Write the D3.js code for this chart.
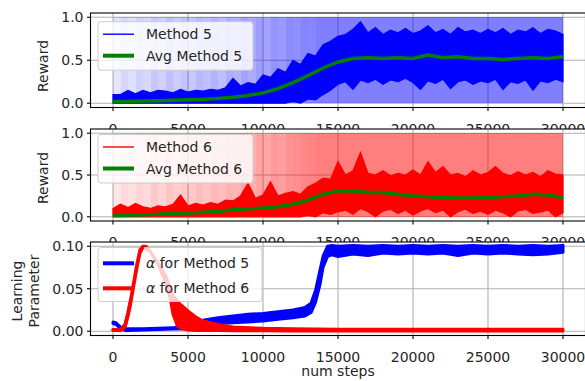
<!DOCTYPE html>
<html>
<head>
<meta charset="utf-8">
<script src="https://cdn.jsdelivr.net/npm/d3@7"></script>
<style>
  body { margin: 0; background: #fff; }
  text { font-family: "DejaVu Sans", sans-serif; font-size: 14px; fill: #262626; }
</style>
</head>
<body>
<svg id="chart" width="585" height="381"></svg>
<script>
// ---- data ----
const xTicks = [0, 5000, 10000, 15000, 20000, 25000, 30000];
const rewardTicks = [0.0, 0.5, 1.0];
const alphaTicks = [0.00, 0.05, 0.10];

// envelope of the raw reward traces, sampled every 500 steps
const bandSteps = d3.range(0, 30001, 500);
const upper5 = [0.10, 0.10, 0.15, 0.11, 0.15, 0.12, 0.15,
  0.14, 0.12, 0.16, 0.13, 0.15, 0.14, 0.16, 0.15,
  0.18, 0.29, 0.20, 0.24, 0.22, 0.33,
  0.30, 0.40, 0.36, 0.50, 0.45, 0.58,
  0.55, 0.68, 0.72, 0.78,
  0.80, 0.86, 0.95, 0.82, 0.88, 0.80, 0.85, 0.82, 0.87, 0.81,
  0.84, 0.90, 0.82, 0.86, 0.80, 0.88, 0.83, 0.85, 0.81, 0.86,
  0.82, 0.87, 0.80, 0.85, 0.83, 0.88, 0.81, 0.86, 0.84, 0.80];
const lower5 = [0, 0, 0, 0, 0, 0, 0, 0, 0, 0, 0, 0, 0, 0, 0, 0, 0, 0, 0, 0, 0, 0, 0,
  0, 0.02, 0, 0.05,
  0.04, 0.10, 0.15, 0.22,
  0.25, 0.16, 0.27, 0.24, 0.28, 0.22, 0.27, 0.25, 0.29, 0.24,
  0.16, 0.26, 0.23, 0.28, 0.17, 0.25, 0.27, 0.22, 0.26, 0.24,
  0.28, 0.16, 0.25, 0.23, 0.27, 0.15, 0.26, 0.24, 0.28, 0.25];
const upper6 = [0.10, 0.15, 0.11, 0.16, 0.12, 0.10, 0.13,
  0.12, 0.15, 0.26, 0.13, 0.16, 0.14, 0.17, 0.15,
  0.20, 0.19, 0.25, 0.40, 0.22, 0.26,
  0.42, 0.25, 0.28, 0.30, 0.27, 0.36,
  0.40, 0.46, 0.45, 0.66,
  0.50, 0.55, 0.77, 0.52, 0.50, 0.55, 0.49, 0.52, 0.50, 0.56,
  0.50, 0.66, 0.53, 0.60, 0.50, 0.52, 0.48, 0.55, 0.50, 0.53,
  0.60, 0.52, 0.49, 0.54, 0.50, 0.53, 0.48, 0.55, 0.51, 0.50];
const lower6 = [0, 0, 0, 0, 0, 0, 0, 0, 0, 0, 0, 0, 0, 0, 0, 0, 0, 0, 0, 0, 0, 0, 0, 0, 0,
  0, 0.02, 0, 0.05, 0.03, 0.06,
  0.08, 0.03, 0.10, 0.06, 0.0, 0.07, 0.09, 0.04, 0.08, 0.02,
  0.07, 0.10, 0.05, 0.08, 0.0, 0.06, 0.09, 0.04, 0.07, 0.03,
  0.08, 0.05, 0.0, 0.07, 0.09, 0.04, 0.06, 0.08, 0.0, 0.05];

// how densely the raw 0/1 reward flickers in each 500-step bin
const density5 = [0.20, 0.32, 0.24, 0.36,
  0.30, 0.44, 0.36, 0.50, 0.40, 0.48,
  0.44, 0.56, 0.50, 0.60, 0.52, 0.64,
  0.60, 0.72, 0.66, 0.76,
  0.72, 0.84, 0.80, 0.90,
  0.88, 0.96, 0.94,
  1, 1, 1, 1, 1, 1, 1, 1, 1, 1, 1, 1, 1, 1, 1, 1, 1, 1, 1, 1, 1, 1, 1, 1, 1, 1, 1, 1, 1, 1, 1, 1, 1, 1];
const density6 = [0.20, 0.30, 0.24, 0.34,
  0.30, 0.42, 0.34, 0.46, 0.38, 0.44,
  0.42, 0.52, 0.46, 0.56, 0.50, 0.60,
  0.58, 0.68, 0.62, 0.72,
  0.70, 0.80, 0.76, 0.86,
  0.88, 0.94, 0.96,
  1, 1, 1, 1, 1, 1, 1, 1, 1, 1, 1, 1, 1, 1, 1, 1, 1, 1, 1, 1, 1, 1, 1, 1, 1, 1, 1, 1, 1, 1, 1, 1, 1, 1];

// running averages, every 1000 steps
const avgSteps = d3.range(0, 30001, 1000);
const avg5 = [0.02, 0.02, 0.025, 0.03, 0.035, 0.04, 0.045, 0.055, 0.07, 0.09, 0.12,
  0.17, 0.24, 0.32, 0.41, 0.48, 0.52, 0.53, 0.52, 0.53, 0.52,
  0.56, 0.53, 0.54, 0.52, 0.52, 0.51, 0.52, 0.53, 0.52, 0.54];
const avg6 = [0.015, 0.02, 0.025, 0.03, 0.04, 0.045, 0.055, 0.065, 0.085, 0.095, 0.105,
  0.12, 0.15, 0.20, 0.27, 0.31, 0.31, 0.29, 0.29, 0.27, 0.25,
  0.24, 0.23, 0.225, 0.225, 0.23, 0.24, 0.25, 0.27, 0.26, 0.23];

// learning parameter alpha, low / high edge of the noisy trace
const alpha5Steps = [0, 200, 500, 800, 1000, 2000, 3000, 4000, 5000, 6000, 7000, 8000, 9000, 10000,
  11000, 12000, 12800, 13200, 13500, 13800, 14000, 14300, 14600, 15000, 16000, 17000, 18000,
  19000, 20000, 21000, 22000, 23000, 24000, 25000, 26000, 27000, 28000, 29000, 30000];
const alpha5Lo = [0.009, 0.008, 0.003, 0.001, 0.001, 0.0015, 0.002, 0.0025, 0.003, 0.006, 0.009,
  0.010, 0.011, 0.012, 0.014, 0.016, 0.018, 0.022, 0.034, 0.055, 0.075, 0.088, 0.090, 0.088,
  0.091, 0.089, 0.092, 0.091, 0.092, 0.091, 0.092, 0.089, 0.092, 0.091, 0.092, 0.091, 0.090, 0.091, 0.093];
const alpha5Hi = [0.011, 0.010, 0.005, 0.003, 0.003, 0.003, 0.0035, 0.004, 0.008, 0.013, 0.016,
  0.018, 0.020, 0.021, 0.023, 0.025, 0.028, 0.033, 0.048, 0.072, 0.088, 0.100, 0.101, 0.100,
  0.101, 0.100, 0.101, 0.100, 0.101, 0.100, 0.101, 0.100, 0.101, 0.100, 0.101, 0.100, 0.101, 0.100, 0.101];
const alpha6Steps = [0, 500, 800, 1000, 1200, 1400, 1600, 1800, 2000, 2200, 2500, 3000, 3500, 3800,
  4000, 4300, 4600, 5000, 5500, 6000, 7000, 8000, 10000, 12000, 15000, 20000, 25000, 30000];
const alpha6Lo = [0.001, 0.0008, 0.005, 0.018, 0.035, 0.055, 0.075, 0.092, 0.099, 0.098, 0.093,
  0.079, 0.058, 0.040, 0.020, 0.006, 0.003, 0.0015, 0.001, 0.001, 0.0008, 0.0006, 0.0005, 0.0004,
  0.0003, 0.0003, 0.0003, 0.0003];
const alpha6Hi = [0.002, 0.0015, 0.008, 0.022, 0.040, 0.060, 0.080, 0.096, 0.100, 0.100, 0.094,
  0.080, 0.066, 0.052, 0.042, 0.035, 0.030, 0.024, 0.017, 0.012, 0.008, 0.005, 0.0035, 0.003,
  0.0025, 0.0025, 0.0025, 0.0025];

// ---- layout ----
const svg = d3.select("#chart");
const x = d3.scaleLinear().domain([-1500, 31500]).range([90.5, 585.5]);
const panels = [
  {top: 13, bottom: 107.5, domain: [-0.05, 1.05], ticks: rewardTicks, fmt: d3.format(".1f")},
  {top: 129, bottom: 221, domain: [-0.05, 1.05], ticks: rewardTicks, fmt: d3.format(".1f")},
  {top: 242, bottom: 335.5, domain: [-0.005, 0.105], ticks: alphaTicks, fmt: d3.format(".2f")}
];
panels.forEach(p => p.y = d3.scaleLinear().domain(p.domain).range([p.bottom, p.top]));

const zip = (steps, ...cols) => steps.map((s, i) => ({s, v: cols.map(c => c[i])}));
const opacity = d3.scaleLinear().domain([0, 1]).range([0, 0.5]);

function frame(p, i) {
  const g = svg.append("g");
  g.append("rect").attr("x", x.range()[0]).attr("y", p.top)
    .attr("width", x.range()[1] - x.range()[0]).attr("height", p.bottom - p.top)
    .attr("fill", "#fff");
  g.append("clipPath").attr("id", "clip" + i).append("rect")
    .attr("x", x.range()[0]).attr("y", p.top)
    .attr("width", x.range()[1] - x.range()[0]).attr("height", p.bottom - p.top);
  // grid
  g.selectAll(".vg").data(xTicks).join("line")
    .attr("x1", d => x(d)).attr("x2", d => x(d)).attr("y1", p.top).attr("y2", p.bottom)
    .attr("stroke", "#b0b0b0").attr("stroke-width", 1.1);
  g.selectAll(".hg").data(p.ticks).join("line")
    .attr("x1", x.range()[0]).attr("x2", x.range()[1]).attr("y1", d => p.y(d)).attr("y2", d => p.y(d))
    .attr("stroke", "#b0b0b0").attr("stroke-width", 1.1);
  const plot = g.append("g").attr("clip-path", `url(#clip${i})`);
  return {g, plot};
}

function decorate(g, p) {
  g.append("rect").attr("x", x.range()[0]).attr("y", p.top)
    .attr("width", x.range()[1] - x.range()[0]).attr("height", p.bottom - p.top)
    .attr("fill", "none").attr("stroke", "#000").attr("stroke-width", 1.1);
  g.selectAll(".xt").data(xTicks).join("line")
    .attr("x1", d => x(d)).attr("x2", d => x(d)).attr("y1", p.bottom).attr("y2", p.bottom + 3.5)
    .attr("stroke", "#000").attr("stroke-width", 1.1);
  g.selectAll(".xl").data(xTicks).join("text")
    .attr("x", d => x(d)).attr("y", p.bottom + 26).attr("text-anchor", "middle").text(d => d);
  g.selectAll(".yt").data(p.ticks).join("line")
    .attr("x1", x.range()[0] - 3.5).attr("x2", x.range()[0]).attr("y1", d => p.y(d)).attr("y2", d => p.y(d))
    .attr("stroke", "#000").attr("stroke-width", 1.1);
  g.selectAll(".yl").data(p.ticks).join("text")
    .attr("x", x.range()[0] - 7).attr("y", d => p.y(d) + 5).attr("text-anchor", "end").text(d => p.fmt(d));
}

function legend(g, box, items) {
  g.append("rect").attr("x", box.x).attr("y", box.y).attr("width", box.w).attr("height", box.h)
    .attr("rx", 3).attr("fill", "#fff").attr("fill-opacity", 0.8).attr("stroke", "#cccccc");
  items.forEach(it => {
    g.append("line").attr("x1", box.x + 5).attr("x2", box.x + 36).attr("y1", it.y).attr("y2", it.y)
      .attr("stroke", it.color).attr("stroke-width", it.width);
    const t = g.append("text").attr("x", box.x + 48).attr("y", it.y + 5);
    if (it.alpha) t.append("tspan").attr("font-style", "italic").text("α");
    t.append("tspan").text(it.alpha ? " " + it.label : it.label);
  });
}

function rewardPanel(i, dens, lower, upper, avg, color, labels, legY) {
  const p = panels[i];
  const {g, plot} = frame(p, i);
  plot.selectAll(".bin").data(dens).join("rect")
    .attr("x", (d, k) => x(bandSteps[k])).attr("width", (d, k) => x(bandSteps[k + 1]) - x(bandSteps[k]))
    .attr("y", p.y(1)).attr("height", p.y(0) - p.y(1))
    .attr("shape-rendering", "crispEdges")
    .attr("fill", color).attr("fill-opacity", d => opacity(d));
  const band = zip(bandSteps, lower, upper);
  plot.append("path").datum(band)
    .attr("d", d3.area().x(d => x(d.s)).y0(d => p.y(d.v[0])).y1(d => p.y(d.v[1])))
    .attr("fill", color).attr("stroke", color).attr("stroke-width", 1.2);
  plot.append("path").datum(zip(avgSteps, avg))
    .attr("d", d3.line().x(d => x(d.s)).y(d => p.y(d.v[0])))
    .attr("fill", "none").attr("stroke", "#008000").attr("stroke-width", 3.5);
  decorate(g, p);
  legend(g, {x: 98, y: legY, w: 155, h: 48.5}, [
    {y: legY + 12.5, color: color, width: 1.4, label: labels[0]},
    {y: legY + 34, color: "#008000", width: 4, label: labels[1]}
  ]);
}

rewardPanel(0, density5, lower5, upper5, avg5, "#0000ff", ["Method 5", "Avg Method 5"], 21.7);
rewardPanel(1, density6, lower6, upper6, avg6, "#ff0000", ["Method 6", "Avg Method 6"], 134.5);

// alpha panel
{
  const p = panels[2];
  const {g, plot} = frame(p, 2);
  const area = d3.area().x(d => x(d.s)).y0(d => p.y(d.v[0])).y1(d => p.y(d.v[1]));
  plot.append("path").datum(zip(alpha5Steps, alpha5Lo, alpha5Hi)).attr("d", area)
    .attr("fill", "#0000ff").attr("stroke", "#0000ff").attr("stroke-width", 3).attr("stroke-linejoin", "round");
  const red = zip(alpha6Steps, alpha6Lo, alpha6Hi);
  plot.append("path").datum(red).attr("d", area)
    .attr("fill", "#ff0000").attr("stroke", "#ff0000").attr("stroke-width", 3).attr("stroke-linejoin", "round");
  decorate(g, p);
  legend(g, {x: 98, y: 247.5, w: 164, h: 54}, [
    {y: 263.3, color: "#0000ff", width: 4, label: "for Method 5", alpha: true},
    {y: 288.3, color: "#ff0000", width: 4, label: "for Method 6", alpha: true}
  ]);
  // rising part of the red trace shows solid over the legend box
  g.append("path").datum(red).attr("clip-path", "url(#clip2)")
    .attr("d", area.defined(d => d.s <= 2000))
    .attr("fill", "#ff0000").attr("stroke", "#ff0000").attr("stroke-width", 3).attr("stroke-linejoin", "round");
}

// axis titles
svg.append("text").attr("transform", "translate(48,66) rotate(-90)").attr("text-anchor", "middle").text("Reward");
svg.append("text").attr("transform", "translate(48,178) rotate(-90)").attr("text-anchor", "middle").text("Reward");
svg.append("text").attr("transform", "translate(22,291) rotate(-90)").attr("text-anchor", "middle").text("Learning");
svg.append("text").attr("transform", "translate(38.5,291) rotate(-90)").attr("text-anchor", "middle").text("Parameter");
svg.append("text").attr("x", 338).attr("y", 376).attr("text-anchor", "middle").text("num steps");
</script>
</body>
</html>
